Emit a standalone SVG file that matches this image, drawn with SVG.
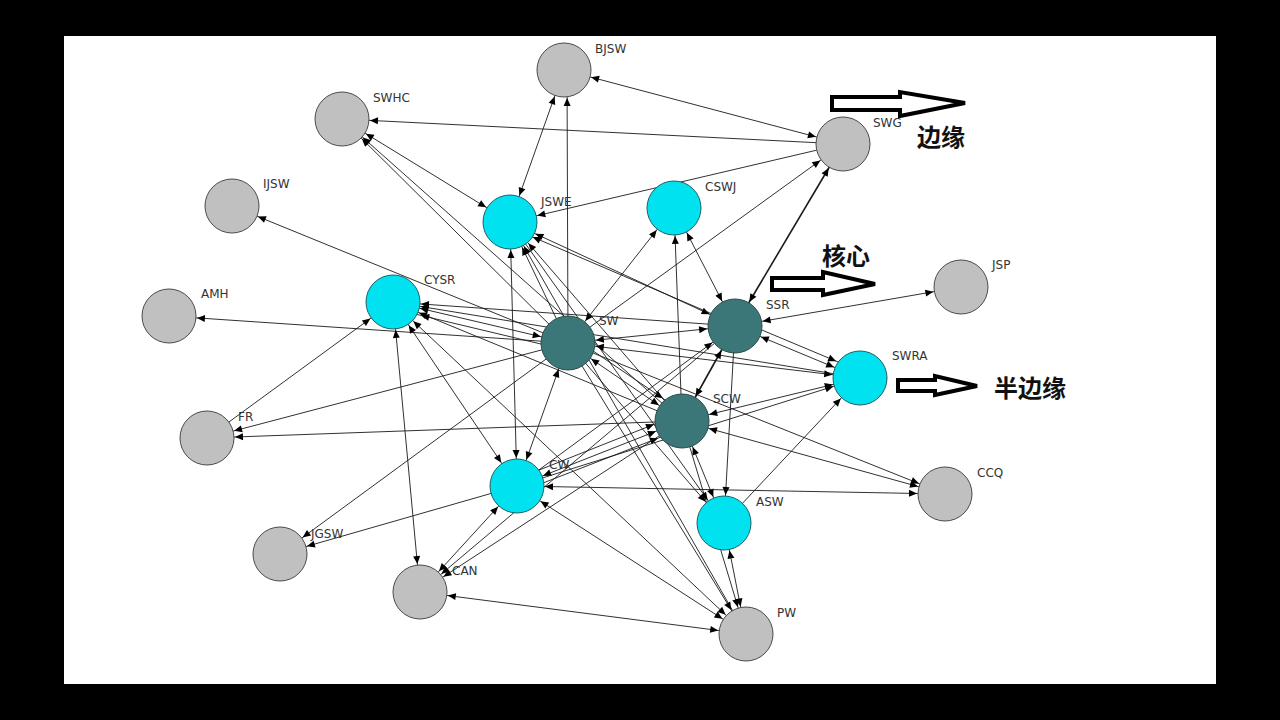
<svg xmlns="http://www.w3.org/2000/svg" width="1280" height="720" viewBox="0 0 1280 720">
<style>
.e{stroke:#1a1a1a;stroke-width:0.9;fill:none}
.t{stroke-width:1.6}
.b{marker-start:url(#s);marker-end:url(#a)}
.o{marker-end:url(#a)}
.g{fill:#c0c0c0;stroke:#4a4a4a;stroke-width:1}
.c{fill:#00e2f0;stroke:#1f5f66;stroke-width:1}
.d{fill:#3b7778;stroke:#2a4a4a;stroke-width:1}
.l{font-family:"DejaVu Sans","Liberation Sans",sans-serif;font-size:12px;fill:#333}
.z{font-family:"Noto Sans CJK SC",sans-serif;font-size:24px;font-weight:bold;fill:#111}
.h{fill:#fff;stroke:#000;stroke-width:4;stroke-linejoin:miter}
</style>
<defs>
<marker id="a" markerUnits="userSpaceOnUse" orient="auto" refX="0" refY="0" markerWidth="10" markerHeight="10" overflow="visible"><path d="M-28,0 L-36,-3.5 L-36,3.5 Z" fill="#000"/></marker>
<marker id="s" markerUnits="userSpaceOnUse" orient="auto-start-reverse" refX="0" refY="0" markerWidth="10" markerHeight="10" overflow="visible"><path d="M-28,0 L-36,-3.5 L-36,3.5 Z" fill="#000"/></marker>
</defs>
<rect x="0" y="0" width="1280" height="720" fill="#000"/>
<rect x="64" y="36" width="1152" height="648" fill="#fff"/>
<g id="connectors">
<line class="e b" x1="510" y1="222" x2="564" y2="70"/>
<line class="e o" x1="568" y1="343" x2="567" y2="70"/>
<line class="e b" x1="843" y1="144" x2="564" y2="70"/>
<line class="e o" x1="843" y1="144" x2="342" y2="119"/>
<line class="e o" x1="568" y1="343" x2="342" y2="119"/>
<line class="e o" x1="682" y1="421" x2="342" y2="119"/>
<line class="e b" x1="342" y1="119" x2="510" y2="222"/>
<line class="e o" x1="843" y1="144" x2="510" y2="222"/>
<line class="e o" x1="568" y1="343" x2="843" y2="144"/>
<line class="e t b" x1="735" y1="326" x2="843" y2="144"/>
<line class="e b" x1="568" y1="343" x2="674" y2="208"/>
<line class="e o" x1="682" y1="421" x2="674" y2="208"/>
<line class="e b" x1="674" y1="208" x2="735" y2="326"/>
<line class="e b" x1="510" y1="222" x2="517" y2="486"/>
<line class="e o" x1="568" y1="343" x2="510" y2="222"/>
<line class="e o" x1="682" y1="421" x2="510" y2="222"/>
<line class="e b" x1="735" y1="326" x2="510" y2="222"/>
<line class="e o" x1="731" y1="322" x2="507" y2="226"/>
<line class="e o" x1="746" y1="634" x2="510" y2="222"/>
<line class="e o" x1="568" y1="343" x2="232" y2="206"/>
<line class="e o" x1="568" y1="343" x2="169" y2="316"/>
<line class="e o" x1="207" y1="438" x2="393" y2="302"/>
<line class="e o" x1="568" y1="343" x2="207" y2="438"/>
<line class="e o" x1="682" y1="421" x2="207" y2="438"/>
<line class="e b" x1="568" y1="343" x2="393" y2="302"/>
<line class="e o" x1="735" y1="326" x2="393" y2="302"/>
<line class="e o" x1="682" y1="421" x2="393" y2="302"/>
<line class="e o" x1="860" y1="378" x2="393" y2="302"/>
<line class="e o" x1="566" y1="350" x2="394" y2="309"/>
<line class="e b" x1="393" y1="302" x2="420" y2="592"/>
<line class="e b" x1="393" y1="302" x2="517" y2="486"/>
<line class="e b" x1="393" y1="302" x2="746" y2="634"/>
<line class="e b" x1="568" y1="343" x2="735" y2="326"/>
<line class="e b" x1="568" y1="343" x2="682" y2="421"/>
<line class="e o" x1="571" y1="336" x2="686" y2="414"/>
<line class="e b" x1="568" y1="343" x2="860" y2="378"/>
<line class="e b" x1="568" y1="343" x2="517" y2="486"/>
<line class="e o" x1="568" y1="343" x2="746" y2="634"/>
<line class="e o" x1="568" y1="343" x2="724" y2="523"/>
<line class="e b" x1="735" y1="326" x2="961" y2="287"/>
<line class="e b" x1="735" y1="326" x2="860" y2="378"/>
<line class="e o" x1="738" y1="320" x2="862" y2="372"/>
<line class="e t b" x1="735" y1="326" x2="682" y2="421"/>
<line class="e o" x1="735" y1="326" x2="724" y2="523"/>
<line class="e o" x1="517" y1="486" x2="735" y2="326"/>
<line class="e b" x1="682" y1="421" x2="860" y2="378"/>
<line class="e b" x1="682" y1="421" x2="945" y2="494"/>
<line class="e b" x1="682" y1="421" x2="517" y2="486"/>
<line class="e o" x1="520" y1="492" x2="684" y2="428"/>
<line class="e o" x1="514" y1="480" x2="680" y2="414"/>
<line class="e b" x1="682" y1="421" x2="724" y2="523"/>
<line class="e o" x1="682" y1="421" x2="746" y2="634"/>
<line class="e b" x1="517" y1="486" x2="945" y2="494"/>
<line class="e o" x1="517" y1="486" x2="280" y2="554"/>
<line class="e b" x1="517" y1="486" x2="420" y2="592"/>
<line class="e b" x1="517" y1="486" x2="746" y2="634"/>
<line class="e b" x1="420" y1="592" x2="746" y2="634"/>
<line class="e b" x1="724" y1="523" x2="746" y2="634"/>
<line class="e o" x1="724" y1="523" x2="860" y2="378"/>
<line class="e o" x1="568" y1="343" x2="280" y2="554"/>
<line class="e o" x1="682" y1="421" x2="420" y2="592"/>
<line class="e o" x1="568" y1="343" x2="945" y2="494"/>
<line class="e o" x1="517" y1="486" x2="860" y2="378"/>
<line class="e o" x1="510" y1="222" x2="724" y2="523"/>
<line class="e o" x1="735" y1="326" x2="420" y2="592"/>
</g>
<g id="BJSW"><circle class="g" cx="564" cy="70" r="27"/><text class="l" x="595" y="53">BJSW</text></g>
<g id="SWHC"><circle class="g" cx="342" cy="119" r="27"/><text class="l" x="373" y="102">SWHC</text></g>
<g id="SWG"><circle class="g" cx="843" cy="144" r="27"/><text class="l" x="873" y="127">SWG</text></g>
<g id="IJSW"><circle class="g" cx="232" cy="206" r="27"/><text class="l" x="263" y="188">IJSW</text></g>
<g id="JSWE"><circle class="c" cx="510" cy="222" r="27"/><text class="l" x="541" y="206">JSWE</text></g>
<g id="CSWJ"><circle class="c" cx="674" cy="208" r="27"/><text class="l" x="705" y="191">CSWJ</text></g>
<g id="AMH"><circle class="g" cx="169" cy="316" r="27"/><text class="l" x="201" y="298">AMH</text></g>
<g id="CYSR"><circle class="c" cx="393" cy="302" r="27"/><text class="l" x="424" y="284">CYSR</text></g>
<g id="SW"><circle class="d" cx="568" cy="343" r="27"/><text class="l" x="599" y="325">SW</text></g>
<g id="SSR"><circle class="d" cx="735" cy="326" r="27"/><text class="l" x="766" y="309">SSR</text></g>
<g id="JSP"><circle class="g" cx="961" cy="287" r="27"/><text class="l" x="992" y="269">JSP</text></g>
<g id="SWRA"><circle class="c" cx="860" cy="378" r="27"/><text class="l" x="892" y="360">SWRA</text></g>
<g id="FR"><circle class="g" cx="207" cy="438" r="27"/><text class="l" x="238" y="421">FR</text></g>
<g id="SCW"><circle class="d" cx="682" cy="421" r="27"/><text class="l" x="713" y="403">SCW</text></g>
<g id="CCQ"><circle class="g" cx="945" cy="494" r="27"/><text class="l" x="977" y="477">CCQ</text></g>
<g id="CW"><circle class="c" cx="517" cy="486" r="27"/><text class="l" x="549" y="469">CW</text></g>
<g id="ASW"><circle class="c" cx="724" cy="523" r="27"/><text class="l" x="756" y="506">ASW</text></g>
<g id="JGSW"><circle class="g" cx="280" cy="554" r="27"/><text class="l" x="311" y="538">JGSW</text></g>
<g id="CAN"><circle class="g" cx="420" cy="592" r="27"/><text class="l" x="452" y="575">CAN</text></g>
<g id="PW"><circle class="g" cx="746" cy="634" r="27"/><text class="l" x="777" y="617">PW</text></g>
<g id="legend">
<polygon class="h" points="832,97 900,97 900,92 965,103 900,116 900,110 832,110"/>
<text class="z" x="917" y="146">边缘</text>
<polygon class="h" points="772,278 823,278 823,272 875,284 823,295 823,290 772,290"/>
<text class="z" x="822" y="265">核心</text>
<polygon class="h" points="898,380 935,380 935,376 977,386 935,395 935,391 898,391"/>
<text class="z" x="994" y="397">半边缘</text>
</g>
</svg>
